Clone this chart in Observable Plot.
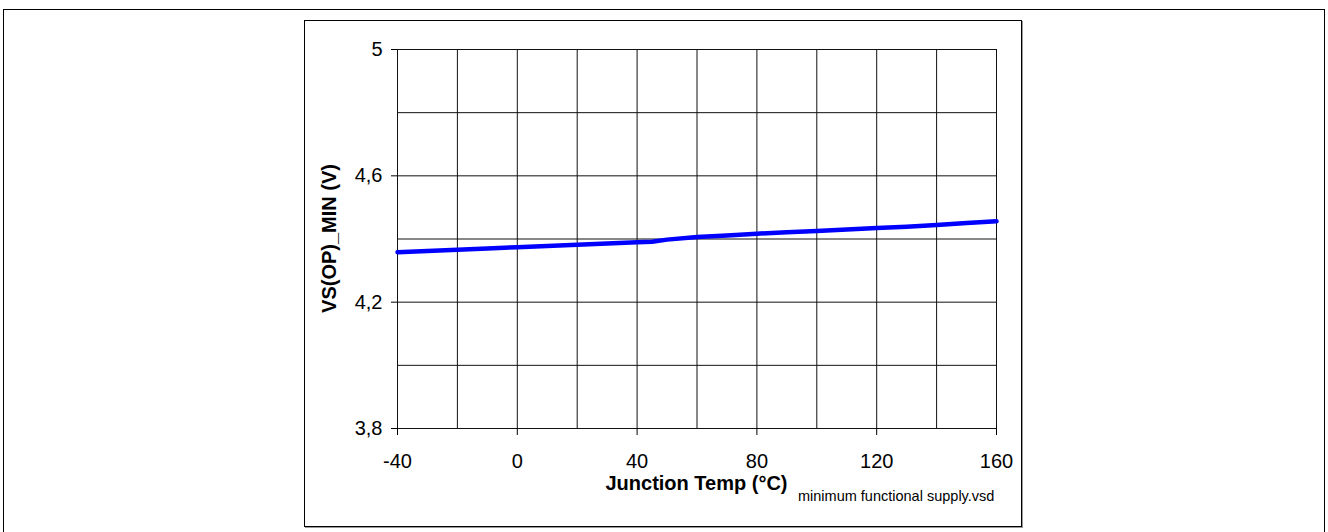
<!DOCTYPE html>
<html><head><meta charset="utf-8">
<script src="https://cdn.jsdelivr.net/npm/d3@7"></script>
<script src="https://cdn.jsdelivr.net/npm/@observablehq/plot@0.6"></script>
<style>
body{margin:0;background:#fff;}
#wrap{position:relative;width:1328px;height:532px;overflow:hidden;font-family:"Liberation Sans",Arial,sans-serif;}
.outer{position:absolute;left:3px;top:9px;width:1322px;height:600px;border:1px solid #000;box-sizing:border-box;}
.inner{position:absolute;left:304px;top:20px;width:718px;height:507px;border:1px solid #000;box-sizing:border-box;box-shadow:1px 1px 0 #999;}
#chart{position:absolute;left:0;top:0;}
</style></head>
<body>
<div id="wrap"><div class="outer"></div><div class="inner"></div><div id="chart"></div></div>
<script>
const temps = [-40,-30,-20,-10,0,10,20,30,40,45,50,60,70,80,90,100,110,120,130,140,150,160];
const vsMin = [4.358,4.362,4.366,4.370,4.374,4.378,4.382,4.386,4.390,4.391,4.398,4.406,4.411,4.417,4.421,4.425,4.430,4.435,4.439,4.444,4.451,4.456];
const xTickLabels = [-40,0,40,80,120,160];
const xGrid = [-40,-20,0,20,40,60,80,100,120,140,160];
const yTickLabels = [3.8,4.2,4.6,5];
const yGrid = [3.8,4.0,4.2,4.4,4.6,4.8,5.0];
const yTitle = "VS(OP)_MIN (V)";
const xTitle = "Junction Temp (°C)";
const caption = "minimum functional supply.vsd";

const data = temps.map((t,i)=>({t, v: vsMin[i]}));

const svg = Plot.plot({
  width: 1328, height: 532,
  marginLeft: 397, marginRight: 332, marginTop: 49, marginBottom: 104,
  style: {fontFamily: '"Liberation Sans", Arial, sans-serif', fontSize: "20px", background: "transparent", color: "#000"},
  x: {domain: [-40,160]},
  y: {domain: [3.8,5]},
  marks: [
    Plot.gridX(xGrid, {stroke: "#111", strokeOpacity: 1, strokeWidth: 1}),
    Plot.gridY(yGrid, {stroke: "#111", strokeOpacity: 1, strokeWidth: 1}),
    Plot.axisX(xTickLabels, {tickSize: 7, tickPadding: 18, label: null, tickFormat: d => String(d), fill: "#000"}),
    Plot.axisY(yTickLabels, {tickSize: 6, tickPadding: 9, label: null, tickFormat: d => String(d).replace(".", ","), fill: "#000"}),
    Plot.line(data, {x: "t", y: "v", stroke: "#0000ff", strokeWidth: 4.5, curve: "linear"})
  ]
});
document.getElementById("chart").appendChild(svg);

const s = d3.select(svg);
s.append("text").attr("transform","translate(336,238.5) rotate(-90)")
  .attr("text-anchor","middle").attr("font-weight","bold").attr("font-size","20px")
  .attr("fill","#000").text(yTitle);
s.append("text").attr("x",696.5).attr("y",490)
  .attr("text-anchor","middle").attr("font-weight","bold").attr("font-size","20px")
  .attr("fill","#000").text(xTitle);
s.append("text").attr("x",798).attr("y",501)
  .attr("text-anchor","start").attr("font-size","14.5px")
  .attr("fill","#000").text(caption);
</script>
</body></html>
